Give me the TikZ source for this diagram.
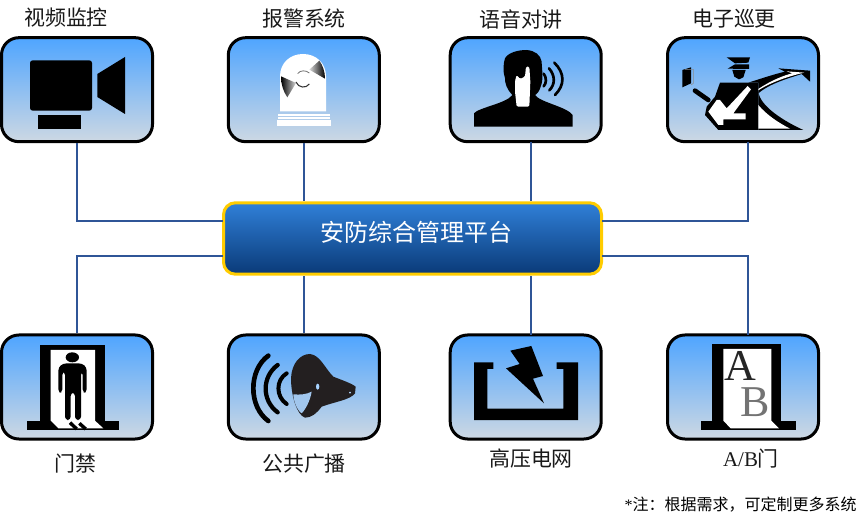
\documentclass[tikz,border=0pt]{standalone}
\usepackage{fontspec}
\setmainfont{Noto Sans CJK SC}
\newfontfamily\serifA{Liberation Serif}
\definecolor{linkc}{HTML}{2F5597}
\definecolor{boxtop}{HTML}{4FA5FF}
\definecolor{boxbot}{HTML}{CDD8E3}
\definecolor{midtop}{HTML}{3080D8}
\definecolor{midbot}{HTML}{0A3A78}
\definecolor{midedge}{HTML}{FFCC00}
\definecolor{horn}{HTML}{231F20}
\tikzset{
  iconbox/.style={draw=black,line width=2.25pt,rounded corners=13pt,minimum width=113.25pt,minimum height=78pt,inner sep=0pt,top color=boxtop,bottom color=boxbot,shading angle=0},
  platform/.style={draw=midedge,line width=2.25pt,rounded corners=9pt,minimum width=283.5pt,minimum height=53.6pt,inner sep=0pt,top color=midtop,bottom color=midbot},
  caption/.style={inner sep=0pt,font=\fontsize{15.7pt}{18pt}\selectfont,text=black!90},
  platlabel/.style={inner sep=0pt,font=\fontsize{18pt}{22pt}\selectfont,text=white},
  notelabel/.style={inner sep=0pt,font=\fontsize{12pt}{14pt}\selectfont,text=black},
  link/.style={draw=linkc,line width=1.15pt},
  zoomed/.style={x=0.25pt,y=-0.25pt},
}
\begin{document}
\begin{tikzpicture}[x=0.75pt,y=-0.75pt]
\useasboundingbox (0,0) rectangle (868,520);
% boxes
\node[iconbox] (b1) at (77,89.7) {};
\node[iconbox] (b2) at (303.8,89.7) {};
\node[iconbox] (b3) at (525.7,89.7) {};
\node[iconbox] (b4) at (743,89.7) {};
\node[iconbox] (b5) at (77,387) {};
\node[iconbox] (b6) at (303.8,387) {};
\node[iconbox] (b7) at (525.7,387) {};
\node[iconbox] (b8) at (743,387) {};
\node[platform] (plat) at (412.5,238.5) {};
\node[platlabel] (plattext) at (416,232.5) {安防综合管理平台};
% captions
\node[caption] (c1) at (66,18) {视频监控};
\node[caption] (c2) at (304,19) {报警系统};
\node[caption] (c3) at (521,19) {语音对讲};
\node[caption] (c4) at (734,19) {电子巡更};
\node[caption] (c5) at (75,464) {门禁};
\node[caption] (c6) at (304,464) {公共广播};
\node[caption] (c7) at (531,459) {高压电网};
\node[caption] (c8) at (751,459) {{\serifA A/B}门};
\node[notelabel,anchor=east] (note) at (857,505) {{\serifA *}注：根据需求，可定制更多系统};
% connector ends
\coordinate (t3) at (531,141.7);
\coordinate (t4) at (748,141.7);
\coordinate (u3) at (531,335);
\coordinate (u4) at (748,335);
\coordinate (pl1) at (223,221);
\coordinate (pl2) at (223,256);
\coordinate (pr1) at (602,221);
\coordinate (pr2) at (602,256);
\draw[link] (b1.south) |- (pl1);
\draw[link] (b2.south) -- (b2.south |- plat.north);
\draw[link] (t3) -- (t3 |- plat.north);
\draw[link] (t4) |- (pr1);
\draw[link] (b5.north) |- (pl2);
\draw[link] (b6.north) -- (b6.north |- plat.south);
\draw[link] (u3) -- (u3 |- plat.south);
\draw[link] (u4) |- (pr2);
% camera
\begin{scope}[zoomed]
\fill[black,rounded corners=2pt] (90,181) rectangle (276,332);
\fill[black] (115,345) rectangle (242,387);
\fill[black] (292,222) -- (375,171) -- (375,342) -- (292,291) -- cycle;
\end{scope}
% alarm
\begin{scope}[shift={(270,48)},zoomed]
\fill[white] (30,190) -- (30,85) .. controls (30,45) and (60,18) .. (99,18) .. controls (138,18) and (168,45) .. (168,85) -- (168,190) -- cycle;
\fill[white] (24,198) rectangle (180,204);
\fill[white] (24,208) rectangle (180,212);
\fill[white] (20,215) rectangle (184,235);
\shade[left color=black,middle color=black!88,right color=black!15] (33,85) -- (78,105) -- (52,148) .. controls (40,130) and (33,110) .. (33,85) -- cycle;
\shade[right color=black,middle color=black!88,left color=black!15] (118,65) -- (148,38) .. controls (158,52) and (165,70) .. (165,92) -- cycle;
\draw[black!55,line width=0.6pt] (83,77) .. controls (90,66) and (108,66) .. (118,75);
\draw[black!80,line width=0.8pt] (78,102) .. controls (85,120) and (108,122) .. (118,108);
\end{scope}
% talk
\begin{scope}[shift={(470,45)},zoomed]
\fill[black] (12,245) -- (12,205) .. controls (25,188) and (110,175) .. (127,150) .. controls (112,135) and (104,115) .. (105,100) .. controls (98,80) and (100,55) .. (105,40) .. controls (115,22) and (145,15) .. (170,15) .. controls (195,17) and (212,30) .. (215,50) .. controls (215,70) and (222,100) .. (212,125) .. controls (208,140) and (200,148) .. (195,150) .. controls (210,172) and (290,185) .. (308,210) -- (308,245) -- cycle;
\fill[white,rounded corners=1pt] (135,108) -- (140,90) -- (150,102) -- (165,95) -- (168,65) -- (178,65) -- (181,110) -- (178,185) -- (140,185) -- (135,140) -- cycle;
\draw[black,line width=2pt,line cap=round] (221,86) .. controls (230,98) and (230,114) .. (221,124);
\draw[black,line width=2pt,line cap=round] (237,70) .. controls (256,92) and (256,118) .. (238,136);
\draw[black,line width=2pt,line cap=round] (253,53) .. controls (285,85) and (285,120) .. (255,150);
\end{scope}
% guard
\begin{scope}[shift={(675,50)},zoomed]
\fill[black] (155,22) -- (225,22) -- (220,38) -- (180,40) -- cycle;
\fill[black] (158,56) -- (180,43) -- (222,43) -- (222,57) -- cycle;
\fill[black] (172,60) -- (212,60) -- (205,82) -- (192,88) -- (178,80) -- cycle;
\fill[black] (135,98) -- (250,98) -- (250,240) -- (130,240) -- (90,195) -- (95,170) -- (120,140) -- cycle;
\fill[white] (125,150) -- (100,185) -- (130,225) -- (145,225) -- (145,208) -- (212,208) -- (212,190) -- (175,190) -- (228,118) -- (218,108) -- (155,175) -- (135,150) -- cycle;
\draw[black,line width=3.5pt,line cap=round] (60,122) -- (100,150);
\fill[black] (22,60) -- (48,52) -- (48,100) -- (22,112) -- cycle;
\draw[black!45,line width=0.4pt] (30,58) -- (55,58) -- (55,100) -- (48,105);
\fill[black] (220,98) .. controls (260,85) and (300,72) .. (330,65) -- (310,55) -- (405,62) -- (405,95) -- (380,72) .. controls (340,85) and (285,100) .. (250,130) -- (250,98) -- cycle;
\fill[white] (250,117) .. controls (290,90) and (330,75) .. (352,70) -- (335,64) -- (388,68) .. controls (350,76) and (290,95) .. (250,121) -- cycle;
\fill[black] (250,125) .. controls (255,170) and (330,215) .. (385,240) -- (250,240) -- cycle;
\fill[white] (250,165) .. controls (275,195) and (310,218) .. (345,236) -- (250,236) -- cycle;
\end{scope}
% door
\begin{scope}[shift={(20,340)},zoomed]
\fill[black] (60,15) rectangle (255,242);
\fill[black] (20,242) rectangle (297,270);
\fill[white] (92,30) -- (225,30) -- (225,242) -- (250,265) -- (115,265) -- (92,242) -- cycle;
\fill[black] (157,52) ellipse [x radius=20,y radius=15];
\fill[black,rounded corners=2.5pt] (115,158) -- (115,82) -- (130,70) -- (186,70) -- (200,82) -- (200,158) -- (188,158) -- (188,95) -- (183,95) -- (183,240) -- (165,240) -- (165,158) -- (152,158) -- (152,240) -- (135,240) -- (135,95) -- (127,95) -- (127,158) -- cycle;
\draw[black,line width=2.6pt] (150,248) -- (170,267);
\draw[black,line width=2.6pt] (178,250) -- (197,267);
\end{scope}
% horn speaker
\begin{scope}[shift={(245,345)},zoomed]
\draw[black,line width=3.5pt,line cap=round] (70,32) .. controls (10,75) and (10,185) .. (70,228);
\draw[black,line width=3.2pt,line cap=round] (98,60) .. controls (50,95) and (50,167) .. (98,202);
\draw[black,line width=3pt,line cap=round] (125,85) .. controls (92,105) and (92,155) .. (125,177);
\fill[horn] (138,100) .. controls (140,55) and (165,27) .. (195,27) .. controls (225,30) and (240,70) .. (265,95) .. controls (290,105) and (320,115) .. (332,125) -- (330,145) .. controls (315,165) and (270,170) .. (230,185) .. controls (215,205) and (200,218) .. (180,218) .. controls (155,210) and (138,150) .. (138,100) -- cycle;
\fill[boxtop!35!boxbot] (145,148) .. controls (165,150) and (185,148) .. (200,140) .. controls (195,170) and (180,195) .. (170,205) .. controls (155,195) and (145,165) .. (145,148) -- cycle;
\fill[white!50!boxtop] (218,125) ellipse [x radius=5,y radius=9];
\fill[white!60!boxtop] (315,143) circle (3);
\end{scope}
% high voltage
\begin{scope}[shift={(434,330)},zoomed]
\fill[black] (120,97) -- (178,97) -- (178,117) -- (160,117) -- (160,236) -- (388,236) -- (388,117) -- (368,117) -- (368,97) -- (432,97) -- (432,270) -- (120,270) -- cycle;
\fill[black] (229,62) -- (292,48) -- (327,138) -- (297,146) -- (330,220) -- (216,115) -- (257,102) -- cycle;
\end{scope}
% A/B door
\begin{scope}[shift={(434,330)},zoomed]
\fill[black] (835,42) rectangle (1042,272);
\fill[black] (801,272) rectangle (1086,300);
\fill[white] (868,57) -- (1012,57) -- (1012,272) -- (1035,295) -- (890,295) -- (868,272) -- cycle;
\node[inner sep=0pt,font=\fontsize{33pt}{33pt}\selectfont\serifA,text=black!85] (lettera) at (918,108) {A};
\node[inner sep=0pt,font=\fontsize{33pt}{33pt}\selectfont\serifA,text=black!55] (letterb) at (963,215) {B};
\end{scope}
\end{tikzpicture}
\end{document}
